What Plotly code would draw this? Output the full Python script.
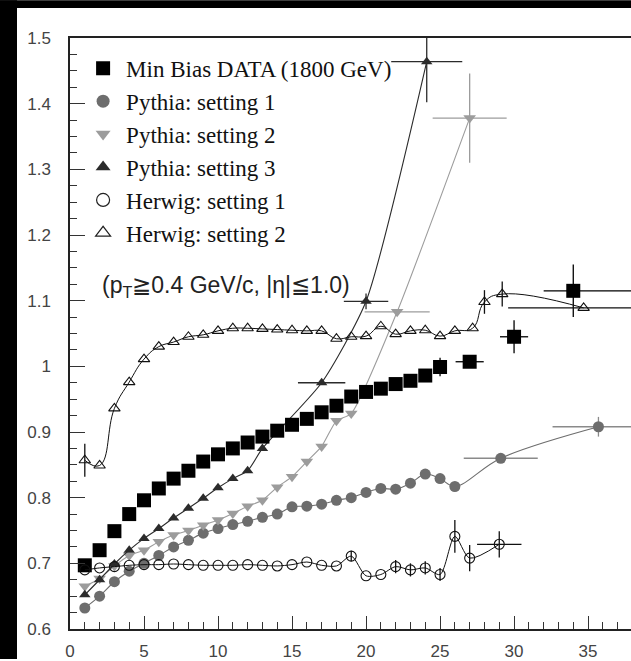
import plotly.graph_objects as go

# ---------------- data ----------------
data_x = [1, 2, 3, 4, 5, 6, 7, 8, 9, 10, 11, 12, 13, 14, 15, 16, 17, 18, 19, 20, 21, 22, 23, 24, 25, 27, 30, 34]
data_y = [0.697, 0.720, 0.749, 0.775, 0.796, 0.814, 0.829, 0.841, 0.855, 0.866, 0.875, 0.884, 0.893, 0.902,
          0.911, 0.920, 0.930, 0.940, 0.954, 0.961, 0.966, 0.973, 0.978, 0.986, 0.999, 1.007, 1.045, 1.115]
data_ex_plus = [0]*25 + [0.95, 0.95, 4.5]
data_ex_minus = [0]*25 + [0.95, 0.95, 2.0]
data_ey = [0]*24 + [0.014, 0.006, 0.025, 0.04]

py1_x = [1, 2, 3, 4, 5, 6, 7, 8, 9, 10, 11, 12, 13, 14, 15, 16, 17, 18, 19, 20, 21, 22, 23, 24, 25, 26, 29.1, 35.7]
py1_y = [0.632, 0.650, 0.672, 0.688, 0.700, 0.712, 0.725, 0.735, 0.746, 0.753, 0.759, 0.764, 0.770, 0.775,
         0.786, 0.787, 0.790, 0.796, 0.800, 0.808, 0.814, 0.813, 0.822, 0.836, 0.829, 0.817, 0.860, 0.908]
py1_ex = [0]*26 + [2.5, 3.1]
py1_ey = [0]*26 + [0.0, 0.015]

py2_x = [1, 2, 3, 4, 5, 6, 7, 8, 9, 10, 11, 12, 13, 14, 15, 16, 17, 18, 19, 22.1, 27]
py2_y = [0.665, 0.677, 0.696, 0.712, 0.720, 0.733, 0.743, 0.750, 0.758, 0.766, 0.776, 0.787, 0.796, 0.816,
         0.832, 0.855, 0.878, 0.917, 0.928, 1.083, 1.378]
py2_ex = [0]*19 + [2.2, 2.5]
py2_ey = [0]*19 + [0.0, 0.068]

py3_x = [1, 2, 3, 4, 5, 6, 7, 8, 9, 10, 11, 12, 13, 17, 20, 24.1]
py3_y = [0.652, 0.675, 0.699, 0.720, 0.738, 0.753, 0.769, 0.784, 0.799, 0.815, 0.829, 0.841, 0.875,
         0.975, 1.099, 1.464]
py3_ex = [0]*13 + [1.6, 1.5, 2.4]
py3_ey = [0]*13 + [0.0, 0.012, 0.062]

hw1_x = [1, 2, 3, 4, 5, 6, 7, 8, 9, 10, 11, 12, 13, 14, 15, 16, 17, 18, 19, 20, 21, 22, 23, 24, 25, 26, 27, 29]
hw1_y = [0.690, 0.693, 0.695, 0.697, 0.698, 0.698, 0.699, 0.698, 0.697, 0.697, 0.697, 0.698, 0.697, 0.696,
         0.698, 0.702, 0.697, 0.696, 0.711, 0.681, 0.683, 0.695, 0.690, 0.693, 0.683, 0.741, 0.708, 0.729]
hw1_ex = [0]*27 + [1.5]
hw1_ey = [0]*18 + [0.008, 0, 0, 0.01, 0.01, 0.01, 0.01, 0.025, 0.02, 0.02]

hw2_x = [1, 2, 3, 4, 5, 6, 7, 8, 9, 10, 11, 12, 13, 14, 15, 16, 17, 18, 19, 20, 21, 22, 23, 24, 25, 26, 27.2,
         28, 29.2, 34.7]
hw2_y = [0.857, 0.849, 0.936, 0.976, 1.011, 1.030, 1.037, 1.045, 1.048, 1.054, 1.058, 1.058, 1.057, 1.056,
         1.055, 1.054, 1.054, 1.042, 1.045, 1.046, 1.061, 1.049, 1.054, 1.055, 1.046, 1.054, 1.058, 1.098,
         1.110, 1.089]
hw2_ex_plus = [0]*29 + [5.0]
hw2_ex_minus = [0]*29 + [5.1]
hw2_ey = [0.025] + [0]*26 + [0.018, 0.019, 0.0]

legend_names = ["Min Bias DATA (1800 GeV)", "Pythia: setting 1", "Pythia: setting 2",
                "Pythia: setting 3", "Herwig: setting 1", "Herwig: setting 2"]
y_tickvals = [0.6, 0.7, 0.8, 0.9, 1.0, 1.1, 1.2, 1.3, 1.4, 1.5]
y_ticktext = ["0.6", "0.7", "0.8", "0.9", "1", "1.1", "1.2", "1.3", "1.4", "1.5"]
x_tickvals = [0, 5, 10, 15, 20, 25, 30, 35]
x_ticktext = ["0", "5", "10", "15", "20", "25", "30", "35"]

C_DATA = "#000000"
C_P1 = "#6d6d6d"
C_P2 = "#9c9c9c"
C_P3 = "#2b2b2b"
C_HW = "#111111"

fig = go.Figure()

def ebar(arr, color, minus=None):
    d = dict(type="data", array=arr, color=color, thickness=1.3, width=0, visible=True)
    if minus is not None:
        d["symmetric"] = False
        d["arrayminus"] = minus
    return d

# lines + markers
fig.add_trace(go.Scatter(x=py1_x, y=py1_y, mode="lines+markers", showlegend=False,
                         line=dict(color=C_P1, width=1.1, shape="spline", smoothing=1.0),
                         marker=dict(symbol="circle", size=11, color=C_P1),
                         error_x=ebar(py1_ex, "#8a8a8a"), error_y=ebar(py1_ey, "#8a8a8a")))
fig.add_trace(go.Scatter(x=py2_x, y=py2_y, mode="lines+markers", showlegend=False,
                         line=dict(color=C_P2, width=1.1, shape="spline", smoothing=0.6),
                         marker=dict(symbol="triangle-down", size=11, color=C_P2),
                         error_x=ebar(py2_ex, C_P2), error_y=ebar(py2_ey, C_P2)))
fig.add_trace(go.Scatter(x=py3_x, y=py3_y, mode="lines+markers", showlegend=False,
                         line=dict(color=C_P3, width=1.1, shape="spline", smoothing=0.6),
                         marker=dict(symbol="triangle-up", size=10, color=C_P3),
                         error_x=ebar(py3_ex, C_P3), error_y=ebar(py3_ey, C_P3)))
fig.add_trace(go.Scatter(x=data_x, y=data_y, mode="markers", showlegend=False,
                         marker=dict(symbol="square", size=14, color=C_DATA),
                         error_x=ebar(data_ex_plus, C_DATA, data_ex_minus), error_y=ebar(data_ey, C_DATA)))
fig.add_trace(go.Scatter(x=hw1_x, y=hw1_y, mode="lines+markers", showlegend=False,
                         line=dict(color=C_HW, width=1.0, shape="spline", smoothing=0.8),
                         marker=dict(symbol="circle-open", size=10, color=C_HW, line=dict(width=1.1)),
                         error_x=ebar(hw1_ex, C_HW), error_y=ebar(hw1_ey, C_HW)))
fig.add_trace(go.Scatter(x=hw2_x, y=hw2_y, mode="lines+markers", showlegend=False,
                         line=dict(color=C_HW, width=1.0, shape="spline", smoothing=1.3),
                         marker=dict(symbol="triangle-up-open", size=10, color=C_HW, line=dict(width=1.1)),
                         error_x=ebar(hw2_ex_plus, C_HW, hw2_ex_minus), error_y=ebar(hw2_ey, C_HW)))

# legend proxies (markers only)
leg_styles = [
    dict(symbol="square", size=14, color=C_DATA),
    dict(symbol="circle", size=13, color=C_P1),
    dict(symbol="triangle-down", size=13, color=C_P2),
    dict(symbol="triangle-up", size=13, color=C_P3),
    dict(symbol="circle-open", size=13, color="#222", line=dict(width=1.2)),
    dict(symbol="triangle-up-open", size=13, color="#222", line=dict(width=1.2)),
]
for i, (nm, st) in enumerate(zip(legend_names, leg_styles)):
    fig.add_trace(go.Scatter(x=[None], y=[None], mode="markers", name=nm, marker=st,
                             showlegend=True))

W, H = 631, 661
ML, MR, MT, MB = 70, 0, 38, 30
pw, ph = W - ML - MR, H - MT - MB

shapes = [
    # black border strips (scan frame)
    dict(type="rect", xref="paper", yref="paper", x0=-ML / pw, x1=-53 / pw,
         y0=-MB / ph, y1=1 + MT / ph, fillcolor="black", line=dict(width=0), layer="above"),
    dict(type="rect", xref="paper", yref="paper", x0=-ML / pw, x1=1,
         y0=1 + 30 / ph, y1=1 + MT / ph, fillcolor="black", line=dict(width=0), layer="above"),
]

fig.update_layout(
    width=W, height=H,
    margin=dict(l=ML, r=MR, t=MT, b=MB),
    paper_bgcolor="white", plot_bgcolor="white",
    shapes=shapes,
    showlegend=True,
    legend=dict(x=0.018, y=0.985, xanchor="left", yanchor="top",
                font=dict(family="Liberation Serif", size=23, color="#111"),
                bgcolor="rgba(0,0,0,0)", itemsizing="trace", itemwidth=36),
    annotations=[dict(x=2.03, y=1.122, xref="x", yref="y", xanchor="left", yanchor="middle",
                      showarrow=False,
                      text="(p<sub>T</sub>≧0.4 GeV/c, |η|≦1.0)",
                      font=dict(family="Liberation Sans", size=23, color="#222"))],
    xaxis=dict(range=[0, 37.9], showgrid=False, zeroline=False,
               showline=True, linecolor="#222", linewidth=1.5, mirror=True,
               ticks="inside", ticklen=13, tickwidth=1.2, tickcolor="#333",
               tickvals=x_tickvals, ticktext=x_ticktext,
               minor=dict(ticks="inside", ticklen=7, dtick=1, tickwidth=1.2, tickcolor="#333"),
               tickfont=dict(family="Liberation Sans", size=17, color="#444"),
               ticklabelstandoff=6),
    yaxis=dict(range=[0.6, 1.5], showgrid=False, zeroline=False,
               showline=True, linecolor="#222", linewidth=1.5,
               ticks="inside", ticklen=15, tickwidth=1.2, tickcolor="#333",
               tickvals=y_tickvals, ticktext=y_ticktext,
               minor=dict(ticks="inside", ticklen=7, dtick=0.025, tickwidth=1.2, tickcolor="#333"),
               tickfont=dict(family="Liberation Sans", size=17, color="#444"),
               ticklabelstandoff=14),
)

fig.write_html("out.html")
